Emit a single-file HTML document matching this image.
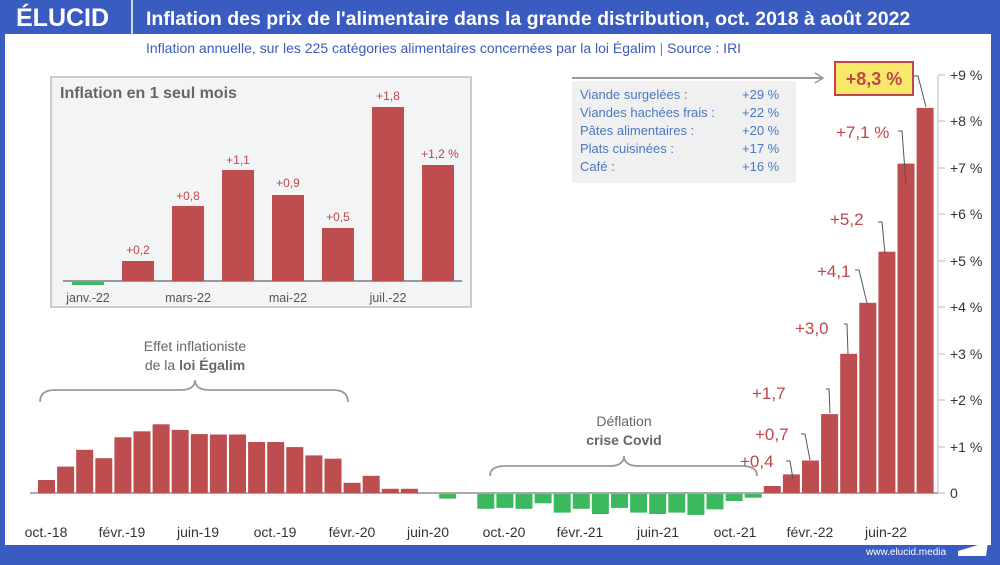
<!DOCTYPE html>
<html><head><meta charset="utf-8"><style>
body{margin:0;width:1000px;height:560px;overflow:hidden;background:#3a5bbf;font-family:"Liberation Sans",sans-serif}
</style></head><body>
<svg width="1000" height="560" xmlns="http://www.w3.org/2000/svg" font-family="Liberation Sans, sans-serif">
<rect width="1000" height="560" fill="#3a5bbf"/>
<rect x="5" y="34" width="986" height="511" fill="#fff"/>
<text x="16" y="26" fill="#fff" font-size="25" font-weight="bold">ÉLUCID</text>
<line x1="132" y1="0" x2="132" y2="34" stroke="#fff" stroke-width="1.5"/>
<text x="146" y="25" fill="#fff" font-size="19.5" font-weight="bold">Inflation des prix de l'alimentaire dans la grande distribution, oct. 2018 à août 2022</text>
<text x="146" y="53" fill="#3a5bbf" font-size="14">Inflation annuelle, sur les 225 catégories alimentaires concernées par la loi Égalim  <tspan fill="#888">|</tspan>  Source : IRI</text>
<text x="866" y="555" fill="#fff" font-size="10">www.elucid.media</text>
<polygon points="958,551 988,542 986,556 958,556" fill="#fff"/>

<g stroke="#bbb" stroke-width="1">
<line x1="938" y1="75" x2="938" y2="493"/>
<line x1="30" y1="493" x2="938" y2="493" stroke="#aaa" stroke-width="2"/>
</g>
<g stroke="#bbb">
<line x1="938" y1="75" x2="945" y2="75"/><line x1="938" y1="121" x2="945" y2="121"/><line x1="938" y1="168" x2="945" y2="168"/><line x1="938" y1="214" x2="945" y2="214"/><line x1="938" y1="261" x2="945" y2="261"/><line x1="938" y1="307" x2="945" y2="307"/><line x1="938" y1="354" x2="945" y2="354"/><line x1="938" y1="400" x2="945" y2="400"/><line x1="938" y1="447" x2="945" y2="447"/><line x1="938" y1="493" x2="945" y2="493"/>
</g>
<g font-size="14" fill="#333">
<text x="950" y="80">+9 %</text><text x="950" y="126">+8 %</text><text x="950" y="173">+7 %</text><text x="950" y="219">+6 %</text><text x="950" y="266">+5 %</text><text x="950" y="312">+4 %</text><text x="950" y="359">+3 %</text><text x="950" y="405">+2 %</text><text x="950" y="452">+1 %</text><text x="950" y="498">0</text>
</g>
<g id="bars"></g>
<g font-size="14" fill="#333" text-anchor="middle">
<text x="46" y="537">oct.-18</text><text x="122" y="537">févr.-19</text><text x="198" y="537">juin-19</text><text x="275" y="537">oct.-19</text><text x="352" y="537">févr.-20</text><text x="428" y="537">juin-20</text><text x="504" y="537">oct.-20</text><text x="580" y="537">févr.-21</text><text x="658" y="537">juin-21</text><text x="735" y="537">oct.-21</text><text x="810" y="537">févr.-22</text><text x="886" y="537">juin-22</text>
</g>

<path d="M40,402 Q40,390 55,390 L180,390 Q195,390 195,380 Q195,390 210,390 L333,390 Q348,390 348,402" fill="none" stroke="#999" stroke-width="1.8"/>
<text x="195" y="351" text-anchor="middle" font-size="14" fill="#666">Effet inflationiste</text>
<text x="195" y="370" text-anchor="middle" font-size="14" fill="#666">de la <tspan font-weight="bold">loi Égalim</tspan></text>
<path d="M490,476 Q490,466 505,466 L609,466 Q624,466 624,456 Q624,466 639,466 L742,466 Q757,466 757,476" fill="none" stroke="#999" stroke-width="1.8"/>
<text x="624" y="426" text-anchor="middle" font-size="14" fill="#666">Déflation</text>
<text x="624" y="445" text-anchor="middle" font-size="14" fill="#666" font-weight="bold">crise Covid</text>

<g font-size="17" fill="#c0464a">
<text x="740" y="467">+0,4</text><text x="755" y="440">+0,7</text><text x="752" y="399">+1,7</text><text x="795" y="334">+3,0</text><text x="817" y="277">+4,1</text><text x="830" y="225">+5,2</text><text x="836" y="138">+7,1 %</text>
</g>
<g fill="none" stroke="#555" stroke-width="1">
<polyline points="786,461 790,461 793,479"/><polyline points="801,434 805,434 810,460"/><polyline points="826,389 829,389 830,413"/><polyline points="844,324 847,324 848,354"/><polyline points="855,270 859,270 867,303"/><polyline points="878,222 882,222 885,254"/><polyline points="898,131 902,131 906,185"/><polyline points="914,76 918,76 926,107"/>
</g>
<rect x="835" y="62" width="78" height="33" fill="#f7e86a" stroke="#c0464a" stroke-width="2"/>
<text x="874" y="85" text-anchor="middle" font-size="18" font-weight="bold" fill="#c0464a">+8,3 %</text>
<line x1="572" y1="78" x2="822" y2="78" stroke="#999" stroke-width="2"/>
<polyline points="815,73 823,78 815,83" fill="none" stroke="#999" stroke-width="1.5"/>
<rect x="572" y="81" width="224" height="102" fill="#f0f0f0"/>
<g font-size="13" fill="#4a78c2">
<text x="580" y="99">Viande surgelées :</text><text x="742" y="99">+29 %</text>
<text x="580" y="117">Viandes hachées frais :</text><text x="742" y="117">+22 %</text>
<text x="580" y="135">Pâtes alimentaires :</text><text x="742" y="135">+20 %</text>
<text x="580" y="153">Plats cuisinées :</text><text x="742" y="153">+17 %</text>
<text x="580" y="171">Café :</text><text x="742" y="171">+16 %</text>
</g>

<rect x="51" y="77" width="420" height="230" fill="#f3f4f6" stroke="#ccc" stroke-width="2"/>
<text x="60" y="98" font-size="16" font-weight="bold" fill="#666">Inflation en 1 seul mois</text>
<line x1="63" y1="281" x2="462" y2="281" stroke="#999" stroke-width="2"/>
<rect x="72" y="282" width="32" height="3" fill="#3cb85e"/>
<g fill="#bd4d4f">
<rect x="122" y="261" width="32" height="20"/><rect x="172" y="206" width="32" height="75"/><rect x="222" y="170" width="32" height="111"/><rect x="272" y="195" width="32" height="86"/><rect x="322" y="228" width="32" height="53"/><rect x="372" y="107" width="32" height="174"/><rect x="422" y="165" width="32" height="116"/>
</g>
<g font-size="12" fill="#c0464a" text-anchor="middle">
<text x="138" y="254">+0,2</text><text x="188" y="200">+0,8</text><text x="238" y="164">+1,1</text><text x="288" y="187">+0,9</text><text x="338" y="221">+0,5</text><text x="388" y="100">+1,8</text><text x="440" y="158">+1,2 %</text>
</g>
<g font-size="12.5" fill="#555" text-anchor="middle">
<text x="88" y="302">janv.-22</text><text x="188" y="302">mars-22</text><text x="288" y="302">mai-22</text><text x="388" y="302">juil.-22</text>
</g>
</svg>
<script>
var v=[0.28,0.57,0.93,0.75,1.2,1.33,1.48,1.36,1.27,1.26,1.26,1.1,1.1,0.99,0.81,0.74,0.22,0.37,0.09,0.09,0,-0.1,0,-0.32,-0.3,-0.32,-0.2,-0.4,-0.32,-0.43,-0.3,-0.4,-0.43,-0.4,-0.45,-0.33,-0.15,-0.08,0.15,0.4,0.7,1.7,3.0,4.1,5.2,7.1,8.3];
var g=document.getElementById('bars'),s='';
for(var i=0;i<v.length;i++){if(!v[i])continue;var x=38+i*19.1,h=Math.abs(v[i])*46.4,y=v[i]>0?493-h:494;
s+='<rect x="'+x.toFixed(1)+'" y="'+y.toFixed(1)+'" width="17" height="'+h.toFixed(1)+'" fill="'+(v[i]>0?'#bd4d4f':'#3cb85e')+'"/>';}
g.innerHTML=s;
</script>
</body></html>
